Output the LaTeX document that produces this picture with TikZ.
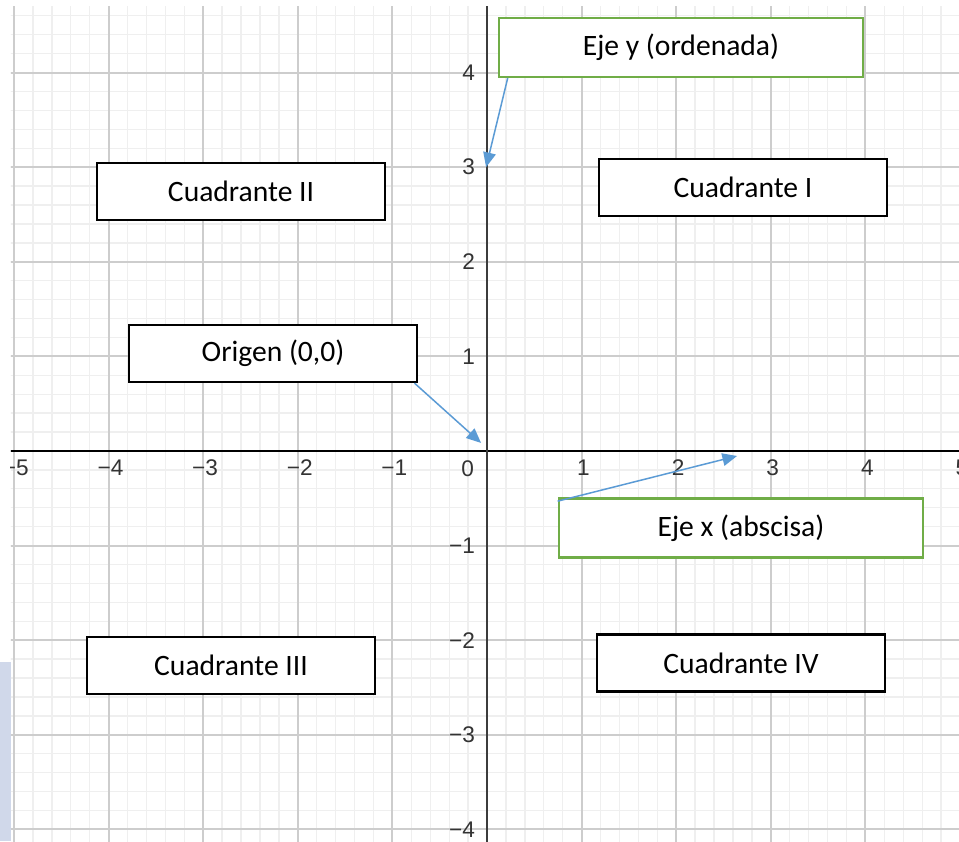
\documentclass[tikz,border=0pt]{standalone}
\usepackage{fontspec}
\setmainfont{Carlito}
\newfontfamily\numfont{Liberation Sans}
\usetikzlibrary{arrows.meta}

\definecolor{gridmajor}{HTML}{CDCDCD}
\definecolor{gridminor}{HTML}{EFEFEF}
\definecolor{boxgreen}{HTML}{70AD47}
\definecolor{arrowblue}{HTML}{5B9BD5}
\definecolor{panelblue}{HTML}{D0D8EA}
\definecolor{axisgray}{HTML}{3C3C3C}
\definecolor{ticktext}{HTML}{333333}

\begin{document}
\begin{tikzpicture}[x=1cm,y=1cm,
  labelbox/.style={draw=black, line width=0.75pt, fill=white,
    minimum width=3.045cm, minimum height=0.60cm, inner sep=0pt,
    font=\fontsize{8.9}{10}\selectfont},
  axisbox/.style={labelbox, draw=boxgreen, minimum width=3.85cm, minimum height=0.62cm},
  pointer/.style={draw=arrowblue, line width=0.45pt,
    -{Triangle[length=4.4pt,width=3.8pt]}},
  tick/.style={font=\numfont\fontsize{6.8}{8}\selectfont, text=ticktext, inner sep=0pt}
]
\useasboundingbox (-5.148,-4.123) rectangle (4.989,4.767);
\fill[white] (-5.148,-4.123) rectangle (4.989,4.767);

% side panel strip at the lower left
\fill[panelblue] (-5.148,-4.123) rectangle (-5.032,-2.23);

\begin{scope}
  \clip (-5.032,-4.123) rectangle (4.989,4.693);
  % grid
  \draw[gridminor, line width=0.4pt] (-5.2,-4.2) grid[step=0.2] (5.2,4.8);
  \draw[gridmajor, line width=0.6pt] (-5.2,-4.2) grid[step=1] (5.2,4.8);
  % axes
  \draw[black, line width=0.6pt] (-5.2,0) -- (5.2,0);
  \draw[axisgray, line width=0.8pt] (0,-4.2) -- (0,4.8);
  % tick labels on the x axis
  \foreach \v/\t in {-5/−5,-4/−4,-3/−3,-2/−2,-1/−1,1/1,2/2,3/3,4/4,5/5}
    \node[tick] (xt\v) at (\v+0.02,-0.18) {\t};
  \node[tick, anchor=east] (xt0) at (-0.13,-0.19) {0};
  % tick labels on the y axis
  \foreach \v/\t in {-4/−4,-3/−3,-2/−2,-1/−1,1/1,2/2,3/3,4/4}
    \node[tick, anchor=east] (yt\v) at (-0.12,\v) {\t};
\end{scope}

% label boxes
\node[axisbox] (ejey) at (2.051,4.265) {Eje y (ordenada)};
\node[labelbox] (q2) at (-2.600,2.743) {Cuadrante II};
\node[labelbox] (q1) at (2.706,2.785) {Cuadrante I};
\node[labelbox] (origen) at (-2.262,1.030) {Origen (0,0)};
\node[axisbox] (ejex) at (2.685,-0.814) {Eje x (abscisa)};
\node[labelbox] (q3) at (-2.706,-2.267) {Cuadrante III};
\node[labelbox] (q4) at (2.685,-2.241) {Cuadrante IV};

% pointer targets
\coordinate (onY) at (-0.01,3.0);
\coordinate (nearO) at (-0.063,0.085);
\coordinate (onX) at (2.643,-0.053);

% pointers
\draw[pointer] ([xshift=0.106cm]ejey.south west) -- (onY);
\draw[pointer] ([xshift=-0.04cm]origen.south east) -- (nearO);
\draw[pointer] ([yshift=-0.04cm]ejex.north west) -- (onX);
\end{tikzpicture}
\end{document}
